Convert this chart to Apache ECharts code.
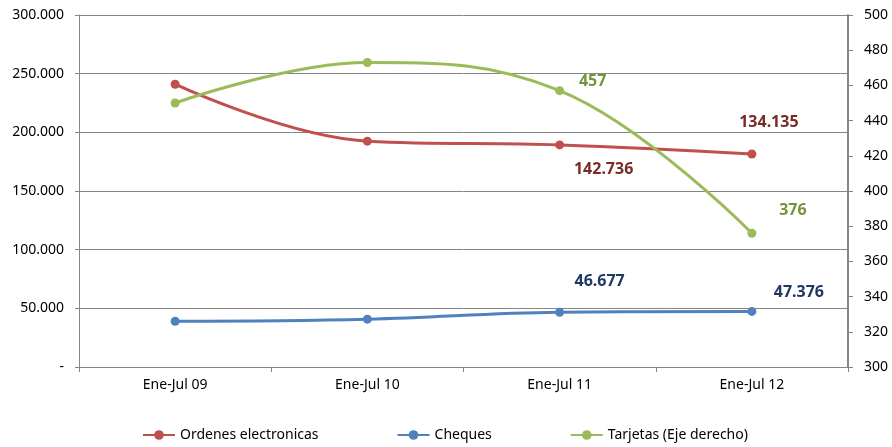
<!DOCTYPE html>
<html><head><meta charset="utf-8">
<script src="https://cdn.jsdelivr.net/npm/echarts@6/dist/echarts.min.js"></script>
<style>html,body{margin:0;padding:0;background:#fff}#c{width:892px;height:447px}</style>
</head><body><div id="c"></div>
<script>
const categories = ['Ene-Jul 09', 'Ene-Jul 10', 'Ene-Jul 11', 'Ene-Jul 12'];
const ordenes = [241000, 192500, 189300, 181500];
const cheques = [39000, 40800, 46677, 47376];
const tarjetas = [450, 473, 457, 376];
const ordenesLabels = ['', '', '142.736', '134.135'];
const chequesLabels = ['', '', '46.677', '47.376'];
const tarjetasLabels = ['', '', '457', '376'];
const leftTicks = {min: 0, max: 300000, interval: 50000};
const rightTicks = {min: 300, max: 500, interval: 20};

const FONT = 'Noto Sans';
function fmtThousands(v){
  if (v === 0) return '-';
  const s = String(v);
  const th = s.slice(-3);
  return s.slice(0, -3) + '.' + th;
}
function mkData(values, labels, offsets, color){
  return values.map((v, i) => ({
    value: v,
    label: labels[i] ? {show: true, position: 'inside', offset: offsets[i], formatter: labels[i],
      color: color, fontWeight: 'bold', fontSize: 16, fontFamily: FONT} : {show: false}
  }));
}
const chart = echarts.init(document.getElementById('c'), null, {renderer: 'canvas'});
chart.setOption({
  animation: false,
  grid: {left: 79, right: 44, top: 15, bottom: 80, containLabel: false},
  legend: {
    bottom: 0, left: 137, itemWidth: 32, itemHeight: 12, itemGap: 78,
    textStyle: {fontFamily: FONT, fontSize: 14, color: '#000'},
    data: ['Ordenes electronicas', 'Cheques', 'Tarjetas (Eje derecho)']
  },
  xAxis: {
    type: 'category', data: categories, boundaryGap: true,
    axisLine: {lineStyle: {color: '#868686', width: 1}},
    axisTick: {show: true, length: 5, lineStyle: {color: '#868686'}},
    axisLabel: {fontFamily: FONT, fontSize: 14, color: '#000', margin: 11}
  },
  yAxis: [
    {type: 'value', min: leftTicks.min, max: leftTicks.max, interval: leftTicks.interval,
     axisLine: {show: true, lineStyle: {color: '#868686'}},
     axisTick: {show: true, length: 4, lineStyle: {color: '#868686'}},
     splitLine: {lineStyle: {color: '#868686', width: 1}},
     axisLabel: {fontFamily: FONT, fontSize: 14, color: '#000', margin: 15, formatter: fmtThousands}},
    {type: 'value', min: rightTicks.min, max: rightTicks.max, interval: rightTicks.interval,
     position: 'right',
     axisLine: {show: true, lineStyle: {color: '#868686', width: 2}},
     axisTick: {show: true, length: 5, lineStyle: {color: '#868686'}},
     splitLine: {show: false},
     axisLabel: {fontFamily: FONT, fontSize: 14, color: '#000', margin: 16}}
  ],
  series: [
    {name: 'Ordenes electronicas', type: 'line', yAxisIndex: 0, smooth: 0.4,
     symbol: 'circle', symbolSize: 9, color: '#C0504D', lineStyle: {width: 3},
     data: mkData(ordenes, ordenesLabels, [null, null, [44, 25], [17, -32]], '#772C2A')},
    {name: 'Cheques', type: 'line', yAxisIndex: 0, smooth: 0.4,
     symbol: 'circle', symbolSize: 9, color: '#4F81BD', lineStyle: {width: 3},
     data: mkData(cheques, chequesLabels, [null, null, [40, -31], [47, -19]], '#1F3864')},
    {name: 'Tarjetas (Eje derecho)', type: 'line', yAxisIndex: 1, smooth: 0.4,
     symbol: 'circle', symbolSize: 9, color: '#9BBB59', lineStyle: {width: 3},
     data: mkData(tarjetas, tarjetasLabels, [null, null, [33, -9], [41, -23]], '#77933C')}
  ]
});
</script></body></html>
